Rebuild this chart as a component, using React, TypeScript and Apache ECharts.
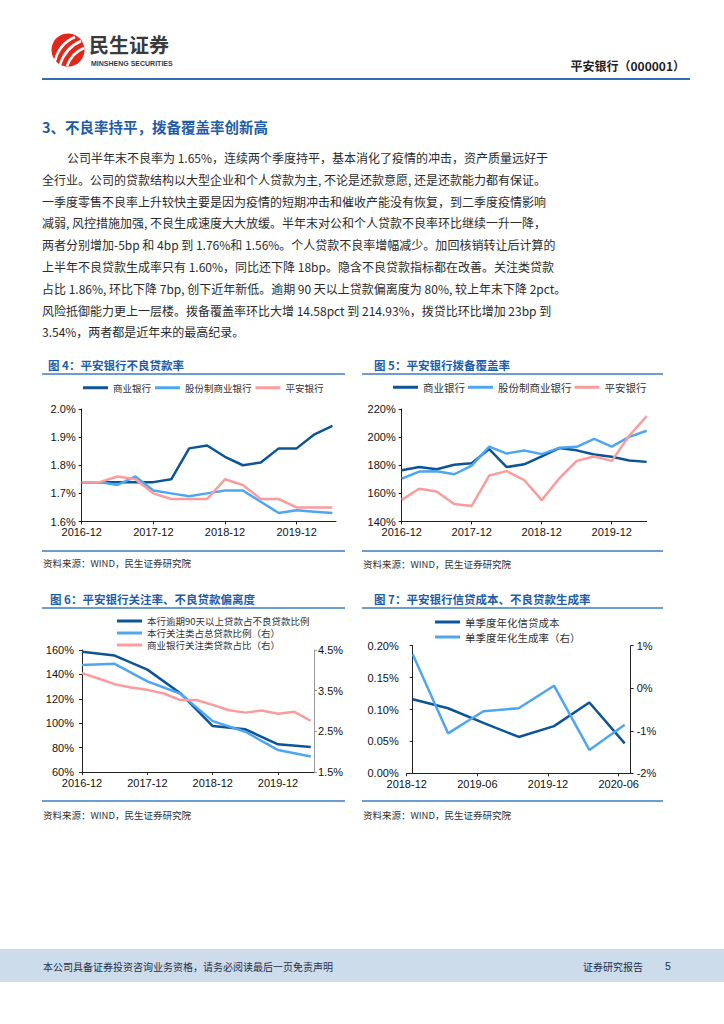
import React, { useEffect, useRef } from 'react';
import * as echarts from 'echarts';

// ---------- DATA ----------
const quarterLabels = [
  '2016-12', '2017-03', '2017-06', '2017-09', '2017-12', '2018-03', '2018-06', '2018-09',
  '2018-12', '2019-03', '2019-06', '2019-09', '2019-12', '2020-03', '2020-06',
];
const quarterTickIdx = [0, 4, 8, 12];

// 图4 不良贷款率 (%)
const fig4Names = ['商业银行', '股份制商业银行', '平安银行'];
const nplCommercial = [1.74, 1.74, 1.74, 1.74, 1.74, 1.75, 1.86, 1.87, 1.83, 1.80, 1.81, 1.86, 1.86, 1.91, 1.94];
const nplJointStock = [1.74, 1.74, 1.73, 1.76, 1.71, 1.70, 1.69, 1.70, 1.71, 1.71, 1.67, 1.63, 1.64, 1.635, 1.63];
const nplPingAn = [1.74, 1.74, 1.76, 1.75, 1.70, 1.68, 1.68, 1.68, 1.75, 1.73, 1.68, 1.68, 1.65, 1.65, 1.65];

// 图5 拨备覆盖率 (%)
const fig5Names = ['商业银行', '股份制商业银行', '平安银行'];
const coverageCommercial = [176.4, 178.8, 177.2, 180.4, 181.4, 191.5, 178.7, 180.7, 186.3, 192.2, 190.6, 187.6, 186.1, 183.4, 182.4];
const coverageJointStock = [170.5, 175.5, 175.7, 173.6, 179.8, 193.3, 188.3, 190.5, 187.9, 192.4, 193.1, 198.8, 193.3, 200.2, 204.5];
const coveragePingAn = [155.4, 163.3, 161.4, 152.4, 151.1, 172.7, 175.8, 169.5, 155.2, 170.6, 183.1, 186.2, 183.1, 201.0, 214.9];

// 图6 关注率、偏离度
const fig6Names = ['本行逾期90天以上贷款占不良贷款比例', '本行关注类占总贷款比例（右）', '商业银行关注类贷款占比（右）'];
const deviationPingAn = [158.6, null, 155.4, null, 143.9, null, 124.8, null, 97.7, null, 95.0, null, 82.7, null, 80.4];
const attentionPingAn = [4.13, null, 4.16, null, 3.73, null, 3.43, null, 2.75, null, 2.49, null, 2.04, null, 1.88];
const attentionCommercial = [3.93, 3.80, 3.66, 3.58, 3.52, 3.43, 3.27, 3.27, 3.15, 3.02, 2.96, 3.01, 2.93, 2.98, 2.76];
const fig6RightTicks = [1.5, 2.5, 3.5, 4.5];

// 图7 信贷成本、生成率
const fig7Labels = ['2018-12', '2019-03', '2019-06', '2019-09', '2019-12', '2020-03', '2020-06'];
const fig7TickIdx = [0, 2, 4, 6];
const fig7Names = ['单季度年化信贷成本', '单季度年化生成率（右）'];
const creditCost = [0.116, 0.102, 0.079, 0.057, 0.074, 0.111, 0.047];
const nplGenRate = [0.80, -1.06, -0.54, -0.47, 0.06, -1.45, -0.86];

const paragraphLines = [
  '公司半年末不良率为 1.65%，连续两个季度持平，基本消化了疫情的冲击，资产质量远好于',
  '全行业。公司的贷款结构以大型企业和个人贷款为主, 不论是还款意愿, 还是还款能力都有保证。',
  '一季度零售不良率上升较快主要是因为疫情的短期冲击和催收产能没有恢复，到二季度疫情影响',
  '减弱, 风控措施加强, 不良生成速度大大放缓。半年末对公和个人贷款不良率环比继续一升一降，',
  '两者分别增加-5bp 和 4bp 到 1.76%和 1.56%。个人贷款不良率增幅减少。加回核销转让后计算的',
  '上半年不良贷款生成率只有 1.60%，同比还下降 18bp。隐含不良贷款指标都在改善。关注类贷款',
  '占比 1.86%, 环比下降 7bp, 创下近年新低。逾期 90 天以上贷款偏离度为 80%, 较上年末下降 2pct。',
  '风险抵御能力更上一层楼。拨备覆盖率环比大增 14.58pct 到 214.93%，拨贷比环比增加 23bp 到',
  '3.54%，两者都是近年来的最高纪录。',
];

// ---------- STYLE ----------
const FONT_CN = '"Noto Sans CJK SC", "Noto Sans", sans-serif';
const FONT_NUM = '"Liberation Sans", Arial, sans-serif';
const C_DARK = '#0c5496';
const C_LIGHT = '#4ea6f2';
const C_PINK = '#fa9c9c';
const C_TITLE = '#1f5ca8';
const C_RULE = '#3b7bc0';
const FIG7_OFFSET = 0.17;

const pairs = (arr: (number | null)[], offset = 0) =>
  arr.map((v, i) => [i + offset, v]).filter((p) => p[1] !== null);

const lineSeries = (name: string, color: string, xi: number, yi: number, data: any[]) => ({
  type: 'line',
  name,
  xAxisIndex: xi,
  yAxisIndex: yi,
  data,
  symbol: 'none',
  silent: true,
  lineStyle: { color, width: 2.5 },
  itemStyle: { color },
});

const axisCommon = {
  axisLine: { show: true, lineStyle: { color: '#222', width: 1 } },
  axisTick: { show: true, inside: false, length: 3, lineStyle: { color: '#222' } },
  splitLine: { show: false },
};

const xQuarterAxis = (gridIndex: number, min: number, max: number, labels: string[], ticks: number[], offset = 0) => ({
  type: 'value',
  gridIndex,
  min,
  max,
  ...axisCommon,
  axisTick: { ...axisCommon.axisTick, customValues: ticks.map((t) => t - offset) },
  axisLabel: {
    customValues: ticks.map((t) => t - offset),
    formatter: (v: number) => labels[Math.round(v + offset)] ?? '',
    fontSize: 11,
    fontFamily: FONT_NUM,
    color: '#111',
    margin: 5,
  },
});

const yAxis = (gridIndex: number, min: number, max: number, interval: number | undefined, fmt: (v: number) => string, extra: any = {}) => ({
  type: 'value',
  gridIndex,
  min,
  max,
  interval,
  ...axisCommon,
  axisLabel: { formatter: fmt, fontSize: 11, fontFamily: FONT_NUM, color: '#111', margin: 6 },
  ...extra,
});

const txt = (text: string, x: number, y: number, size: number, opts: any = {}) => ({
  type: 'text',
  silent: true,
  style: {
    text,
    x,
    y,
    fill: opts.fill ?? '#333',
    fontSize: size,
    fontFamily: opts.family ?? FONT_CN,
    fontWeight: opts.weight ?? 'normal',
    textAlign: opts.align ?? 'left',
    align: opts.align ?? 'left',
    textVerticalAlign: 'middle',
    verticalAlign: 'middle',
  },
});

const rule = (x1: number, x2: number, y: number, w = 1.5, color = C_RULE) => ({
  type: 'line',
  silent: true,
  shape: { x1, y1: y, x2, y2: y },
  style: { stroke: color, lineWidth: w },
});

const legendBase = {
  icon: 'rect',
  itemWidth: 25,
  itemHeight: 3,
  padding: 0,
  selectedMode: false,
};

const buildOption = () => {
  const graphic: any[] = [];
  // header
  graphic.push({ type: 'circle', silent: true, shape: { cx: 68, cy: 50, r: 16.5 }, style: { fill: '#e1261c' } });
  [[55, 61, 75, 37, 59, 44], [60, 65, 81, 41, 65, 48], [67, 66, 84, 48, 72, 53]].forEach((c) =>
    graphic.push({
      type: 'bezierCurve',
      silent: true,
      shape: { x1: c[0], y1: c[1], x2: c[2], y2: c[3], cpx1: c[4], cpy1: c[5] },
      style: { stroke: '#fff', lineWidth: 2.6, fill: null },
    })
  );
  graphic.push(txt('民生证券', 89, 44.5, 20, { weight: 'bold', fill: '#3a3a3a' }));
  graphic.push(txt('MINSHENG SECURITIES', 91, 63.5, 7, { weight: 'bold', fill: '#3a3a3a', family: FONT_NUM }));
  graphic.push(txt('平安银行（000001）', 685, 65, 12, { weight: 'bold', fill: '#222', align: 'right' }));
  graphic.push(rule(42, 690, 79, 2.2, '#2f6db5'));

  // heading & paragraph
  graphic.push(txt('3、不良率持平，拨备覆盖率创新高', 42, 126, 14.5, { weight: 'bold', fill: C_TITLE }));
  paragraphLines.forEach((line, i) =>
    graphic.push(txt(line, i === 0 ? 67 : 42, 157.5 + i * 21.8, 12, { fill: '#2b2b2b' }))
  );

  // figure frames
  const frames = [
    { x1: 42, x2: 345, t: 365, r1: 374, r2: 551, s: 563, title: '图 4：平安银行不良贷款率', tx: 48 },
    { x1: 362, x2: 663, t: 365, r1: 374, r2: 551, s: 564, title: '图 5：平安银行拨备覆盖率', tx: 374 },
    { x1: 42, x2: 345, t: 599, r1: 608, r2: 801, s: 815, title: '图 6：平安银行关注率、不良贷款偏离度', tx: 50 },
    { x1: 362, x2: 663, t: 599, r1: 608, r2: 801, s: 815, title: '图 7：平安银行信贷成本、不良贷款生成率', tx: 374 },
  ];
  frames.forEach((f) => {
    graphic.push(txt(f.title, f.tx, f.t, 11.5, { weight: 'bold', fill: C_TITLE }));
    graphic.push(rule(f.x1, f.x2, f.r1, 1.5));
    graphic.push(rule(f.x1, f.x2, f.r2, 1.5));
    graphic.push(txt('资料来源：WIND，民生证券研究院', f.x1 + 1, f.s, 9.5, { fill: '#333' }));
  });

  // footer
  graphic.push({ type: 'rect', silent: true, shape: { x: 0, y: 949, width: 724, height: 33 }, style: { fill: '#cddcea' } });
  graphic.push(txt('本公司具备证券投资咨询业务资格，请务必阅读最后一页免责声明', 43, 966, 10, { fill: '#1f2f4a' }));
  graphic.push(txt('证券研究报告', 583, 966, 10, { fill: '#1f2f4a' }));
  graphic.push(txt('5', 665, 966, 10.5, { fill: '#1f2f4a', family: FONT_NUM }));

  return {
    animation: false,
    backgroundColor: '#fff',
    grid: [
      { left: 81.7, top: 409, width: 254.3, height: 112.5 },
      { left: 401.7, top: 409, width: 245, height: 112.5 },
      { left: 82, top: 650, width: 232, height: 122 },
      { left: 406.7, top: 645.7, width: 224, height: 127.6 },
    ],
    xAxis: [
      xQuarterAxis(0, 0, 14.2, quarterLabels, quarterTickIdx),
      xQuarterAxis(1, 0, 14, quarterLabels, quarterTickIdx),
      xQuarterAxis(2, 0, 14.2, quarterLabels, quarterTickIdx),
      xQuarterAxis(3, -FIG7_OFFSET, 6 + FIG7_OFFSET, fig7Labels, fig7TickIdx, FIG7_OFFSET),
    ],
    yAxis: [
      yAxis(0, 1.6, 2.0, 0.1, (v) => v.toFixed(1) + '%'),
      yAxis(1, 140, 220, 20, (v) => Math.round(v) + '%'),
      yAxis(2, 60, 160, 20, (v) => Math.round(v) + '%', { axisLabel: { formatter: (v: number) => Math.round(v) + '%', fontSize: 11, fontFamily: FONT_NUM, color: '#111', margin: 8 } }),
      yAxis(2, 1.5, 4.5, undefined, (v) => v.toFixed(1) + '%', {
        position: 'right',
        axisLine: { show: true, lineStyle: { color: '#999', width: 1 } },
        axisTick: { show: true, length: 3, customValues: fig6RightTicks, lineStyle: { color: '#999' } },
        axisLabel: { customValues: fig6RightTicks, formatter: (v: number) => v.toFixed(1) + '%', fontSize: 11, fontFamily: FONT_NUM, color: '#111', margin: 4 },
      }),
      yAxis(3, 0, 0.2, 0.05, (v) => v.toFixed(2) + '%', { axisLabel: { formatter: (v: number) => v.toFixed(2) + '%', fontSize: 11, fontFamily: FONT_NUM, color: '#111', margin: 8 } }),
      yAxis(3, -2, 1, 1, (v) => Math.round(v) + '%', { position: 'right' }),
    ],
    legend: [
      { ...legendBase, data: fig4Names, left: 83, top: 383, itemGap: 4, textStyle: { fontSize: 9.5, fontFamily: FONT_CN, color: '#333' } },
      { ...legendBase, data: fig5Names, left: 393, top: 382, itemGap: 3, textStyle: { fontSize: 10.5, fontFamily: FONT_CN, color: '#333' } },
      { ...legendBase, data: fig6Names, left: 117, top: 615, orient: 'vertical', itemGap: 0, textStyle: { fontSize: 9.5, lineHeight: 12, fontFamily: FONT_CN, color: '#333' } },
      { ...legendBase, data: fig7Names, left: 435, top: 614.5, orient: 'vertical', itemGap: 0, textStyle: { fontSize: 10.5, lineHeight: 15, fontFamily: FONT_CN, color: '#333' } },
    ],
    series: [
      lineSeries(fig4Names[0], C_DARK, 0, 0, pairs(nplCommercial)),
      lineSeries(fig4Names[1], C_LIGHT, 0, 0, pairs(nplJointStock)),
      lineSeries(fig4Names[2], C_PINK, 0, 0, pairs(nplPingAn)),
      lineSeries(fig5Names[0], C_DARK, 1, 1, pairs(coverageCommercial)),
      lineSeries(fig5Names[1], C_LIGHT, 1, 1, pairs(coverageJointStock)),
      lineSeries(fig5Names[2], C_PINK, 1, 1, pairs(coveragePingAn)),
      lineSeries(fig6Names[0], C_DARK, 2, 2, pairs(deviationPingAn)),
      lineSeries(fig6Names[1], C_LIGHT, 2, 3, pairs(attentionPingAn)),
      lineSeries(fig6Names[2], C_PINK, 2, 3, pairs(attentionCommercial)),
      lineSeries(fig7Names[0], C_DARK, 3, 4, pairs(creditCost)),
      lineSeries(fig7Names[1], C_LIGHT, 3, 5, pairs(nplGenRate)),
    ],
    graphic: { elements: graphic },
  };
};

export default function App() {
  const ref = useRef<HTMLDivElement>(null);
  useEffect(() => {
    if (!ref.current) return;
    const chart = echarts.init(ref.current, null, { renderer: 'svg' });
    chart.setOption(buildOption() as any);
    return () => chart.dispose();
  }, []);
  return (
    <div
      ref={ref}
      style={{ position: 'absolute', left: 0, top: 0, width: 724, height: 1024, background: '#fff' }}
    />
  );
}
